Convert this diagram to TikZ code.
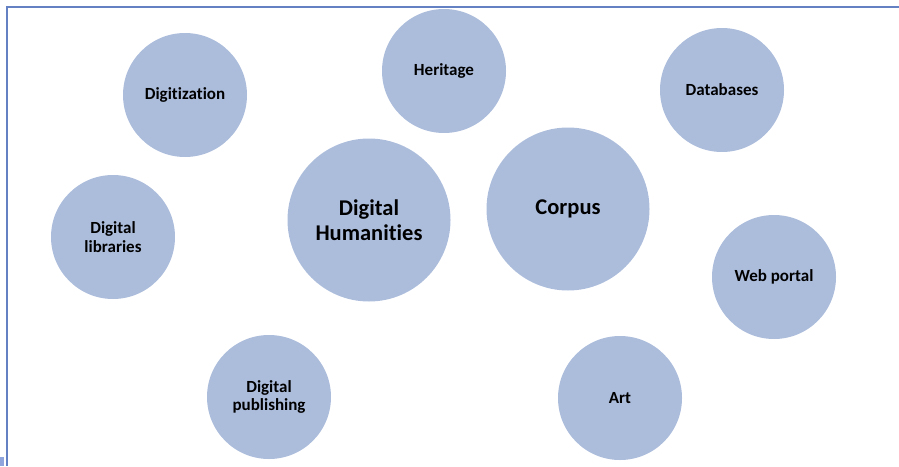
\documentclass[tikz,border=0pt]{standalone}
\usepackage{fontspec}
\setmainfont{Carlito}[Ligatures=NoCommon]
\usepackage{tikz}

\definecolor{bubble}{RGB}{172,189,220}
\definecolor{framec}{RGB}{100,130,195}

\begin{document}
\begin{tikzpicture}[x=1pt, y=-1pt,
  topic/.style = {circle, fill=bubble, align=center, inner sep=0pt, minimum size=124pt, font=\bfseries\fontsize{17}{18.5}\selectfont},
  core/.style = {topic, minimum size=163pt, font=\bfseries\fontsize{22.5}{25}\selectfont}
]
\useasboundingbox (0,0) rectangle (899,466);

% Frame (top and left edges only)
\draw[framec, line width=1.6pt] (899,7) -- (7,7) -- (7,466);
\fill[cyan!40!blue!45] (0,457) rectangle (4,466);

% Central topics
\node[core] at (369,220) (dh) {Digital\\Humanities};
\node[core] at (568,209) (corpus) {Corpus};

% Surrounding topics
\node[topic] at (185,95) (digitization) {Digitization};
\node[topic] at (444,71) (heritage) {Heritage};
\node[topic] at (722,90) (databases) {Databases};
\node[topic] at (113,237) (libraries) {Digital\\libraries};
\node[topic] at (774,277) (portal) {Web portal};
\node[topic] at (269,397) (publishing) {Digital\\publishing};
\node[topic] at (620,398) (art) {Art};

\end{tikzpicture}
\end{document}
